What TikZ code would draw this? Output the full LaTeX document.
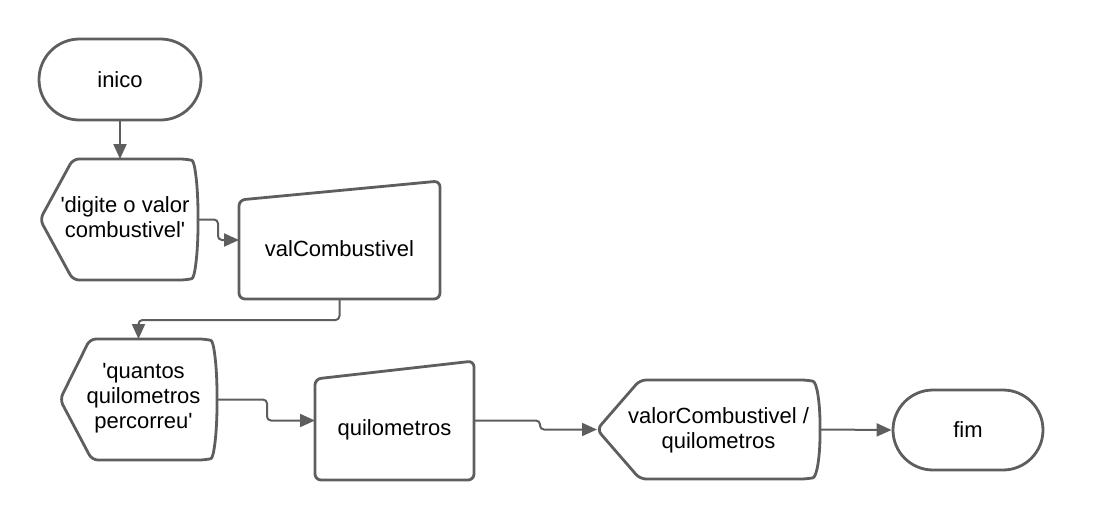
\documentclass[tikz,border=0pt]{standalone}
\usepackage{fontspec}
\setmainfont{Liberation Sans}
\usetikzlibrary{arrows.meta,calc,shapes.misc}
\definecolor{lucidgray}{HTML}{5E5E5E}
\begin{document}
\begin{tikzpicture}[x=1pt,y=-1pt,
		outline/.style={draw=lucidgray,line width=2.8pt,line join=round,rounded corners=6pt},
		frame/.style={inner sep=0pt,outer sep=0pt},
		terminal/.style={rounded rectangle,draw=lucidgray,line width=2.8pt,inner sep=0pt,font=\fontsize{22}{25}\selectfont},
		caption/.style={inner sep=0pt,align=center,font=\fontsize{22}{25}\selectfont},
		flow/.style={draw=lucidgray,line width=2pt,rounded corners=4pt,-{Triangle[length=15pt,width=13pt]}}]
		\useasboundingbox (0,0) rectangle (1120,520);
		% terminals
		\node[terminal,minimum width=162pt,minimum height=81pt] (inico) at (120,79.5) {inico};
		\node[terminal,minimum width=150pt,minimum height=80pt] (fim) at (968,430) {fim};
		% frames of the other shapes
		\node[frame,minimum width=158pt,minimum height=121pt] (ask1) at (119,219.5) {};
		\node[frame,minimum width=201pt,minimum height=118pt] (read1) at (339.5,240) {};
		\node[frame,minimum width=157pt,minimum height=121pt] (ask2) at (138.5,399.5) {};
		\node[frame,minimum width=159pt,minimum height=119pt] (read2) at (394.5,420.5) {};
		\node[frame,minimum width=223pt,minimum height=99pt] (result) at (708.5,429.5) {};
		% display shapes
		\draw [outline] (ask1.west) -- ($(ask1.north west)+(33,0)$) -- ($(ask1.north east)+(-12,0)$)
			.. controls ($(ask1.north east)+(-3,2)$) and ($(ask1.east)+(0,-32)$) .. (ask1.east)
			.. controls ($(ask1.east)+(0,32)$) and ($(ask1.south east)+(-3,-2)$) .. ($(ask1.south east)+(-12,0)$)
			-- ($(ask1.south west)+(33,0)$) -- cycle;
		\draw [outline] (ask2.west) -- ($(ask2.north west)+(30,0)$) -- ($(ask2.north east)+(-12,0)$)
			.. controls ($(ask2.north east)+(-3,2)$) and ($(ask2.east)+(0,-32)$) .. (ask2.east)
			.. controls ($(ask2.east)+(0,32)$) and ($(ask2.south east)+(-3,-2)$) .. ($(ask2.south east)+(-12,0)$)
			-- ($(ask2.south west)+(32,0)$) -- cycle;
		\draw [outline] (result.west) -- ($(result.north west)+(43,0)$) -- ($(result.north east)+(-13,0)$)
			.. controls ($(result.north east)+(-3,2)$) and ($(result.east)+(0,-26)$) .. (result.east)
			.. controls ($(result.east)+(0,26)$) and ($(result.south east)+(-3,-2)$) .. ($(result.south east)+(-13,0)$)
			-- ($(result.south west)+(43,0)$) -- cycle;
		% manual inputs
		\draw [outline] ($(read1.north west)+(0,19)$) -- (read1.north east) -- (read1.south east) -- (read1.south west) -- cycle;
		\draw [outline] ($(read2.north west)+(0,18)$) -- (read2.north east) -- (read2.south east) -- (read2.south west) -- cycle;
		% texts
		\node[caption] (ask1text) at ($(ask1)+(6,-2)$) {\textquotesingle digite o valor\\combustivel\textquotesingle};
		\node[caption] (read1text) at ($(read1)+(0,9)$) {valCombustivel};
		\node[caption] (ask2text) at ($(ask2)+(5,-1)$) {\textquotesingle quantos\\quilometros\\percorreu\textquotesingle};
		\node[caption] (read2text) at ($(read2)+(0,9)$) {quilometros};
		\node[caption] (resulttext) at ($(result)+(10,1)$) {valorCombustivel /\\quilometros};
		% connectors
		\draw [flow] (inico.south) -- (inico.south |- ask1.north);
		\draw [flow] (ask1.east) -- ++(20,0) |- (read1.west);
		\draw [flow] (read1.south) -- ++(0,21) -| (ask2.north);
		\draw [flow] (ask2.east) -- ++(50,0) |- (read2.west);
		\draw [flow] (read2.east) -- ++(66,0) |- (result.west);
		\draw [flow] (result.east) -- (fim.west);
	\end{tikzpicture}
\end{document}
